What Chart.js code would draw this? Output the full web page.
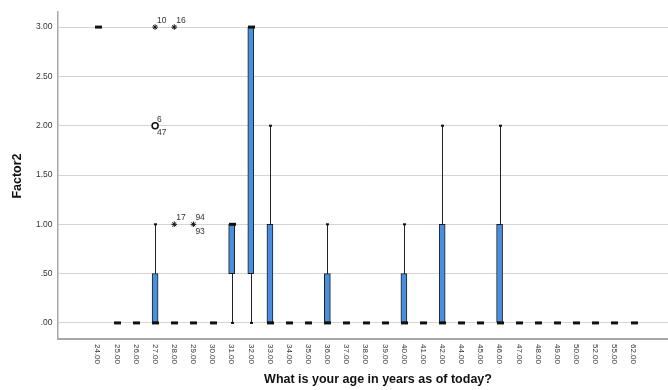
<!DOCTYPE html>
<html>
<head>
<meta charset="utf-8">
<script src="https://cdn.jsdelivr.net/npm/chart.js@4.4.1/dist/chart.umd.min.js"></script>
<style>
  html, body { margin: 0; padding: 0; background: #fff; }
  #wrap { width: 668px; height: 390px; position: relative; }
</style>
</head>
<body>
<div id="wrap"><canvas id="chart" width="668" height="390"></canvas></div>
<script>
// age groups on the x axis
const categories = ['24.00','25.00','26.00','27.00','28.00','29.00','30.00','31.00','32.00','33.00',
  '34.00','35.00','36.00','37.00','38.00','39.00','40.00','41.00','42.00','44.00','45.00','46.00',
  '47.00','48.00','49.00','50.00','52.00','55.00','62.00'];

// box plot summary per age (Factor2)
const whiskerLow  = [3,0,0,0,0,0,0,0,  0,  0,0,0,0,  0,0,0,0,  0,0,0,0,0,0,0,0,0,0,0,0];
const q1          = [3,0,0,0,0,0,0,0.5,0.5,0,0,0,0,  0,0,0,0,  0,0,0,0,0,0,0,0,0,0,0,0];
const median      = [3,0,0,0,0,0,0,1,  3,  0,0,0,0,  0,0,0,0,  0,0,0,0,0,0,0,0,0,0,0,0];
const q3          = [3,0,0,0.5,0,0,0,1,3,  1,0,0,0.5,0,0,0,0.5,0,1,0,0,1,0,0,0,0,0,0,0];
const whiskerHigh = [3,0,0,1,0,0,0,1,  3,  2,0,0,1,  0,0,0,1,  0,2,0,0,2,0,0,0,0,0,0,0];

// outliers: category index, value, marker, case ids
const outlierCat   = [3, 4, 3, 4, 5];
const outlierValue = [3, 3, 2, 1, 1];
const outlierShape = ['star','star','circle','star','star'];
const outlierIds   = [['10'], ['16'], ['6','47'], ['17'], ['94','93']];

const yTicks = [0, 0.5, 1, 1.5, 2, 2.5, 3];
const xTitle = 'What is your age in years as of today?';
const yTitle = 'Factor2';

const FONT = '"Liberation Sans", Arial, sans-serif';

const boxData = categories.map((c, i) => ({ x: i, y: q3[i] > q1[i] ? [q1[i], q3[i]] : null }));
const outlierData = outlierCat.map((c, i) => ({ x: c, y: outlierValue[i] }));

const boxPlotExtras = {
    id: 'boxPlotExtras',
    beforeDatasetsDraw(chart) {
        const { ctx, scales: { x, y } } = chart;
        ctx.save();
        ctx.strokeStyle = '#222';
        ctx.lineWidth = 1;
        categories.forEach((c, i) => {
            if (whiskerHigh[i] === whiskerLow[i]) return;
            const px = Math.round(x.getPixelForValue(i)) + 0.5;
            ctx.beginPath();
            ctx.moveTo(px, y.getPixelForValue(whiskerLow[i]));
            ctx.lineTo(px, y.getPixelForValue(whiskerHigh[i]));
            ctx.stroke();
            // tiny caps
            [whiskerLow[i], whiskerHigh[i]].forEach(v => {
                if (v === q1[i] || v === q3[i]) return;
                ctx.fillStyle = '#111';
                ctx.fillRect(px - 1.5, y.getPixelForValue(v) - 1, 3, 2);
            });
        });
        ctx.restore();
    },
    afterDatasetsDraw(chart) {
        const { ctx, scales: { x, y } } = chart;
        ctx.save();
        ctx.fillStyle = '#111';
        categories.forEach((c, i) => {
            const px = Math.round(x.getPixelForValue(i));
            const py = y.getPixelForValue(median[i]);
            ctx.fillRect(px - 3, py - 1.5, 7, 3);
        });
        // case labels next to outliers
        ctx.fillStyle = '#333';
        ctx.font = '8.5px ' + FONT;
        ctx.textAlign = 'left';
        outlierCat.forEach((c, i) => {
            const px = x.getPixelForValue(c);
            const py = y.getPixelForValue(outlierValue[i]);
            const ids = outlierIds[i];
            ctx.textBaseline = 'alphabetic';
            ctx.fillText(ids[0], px + 2, py - 4);
            if (ids[1]) {
                ctx.textBaseline = 'top';
                ctx.fillText(ids[1], px + 2, py + 3);
            }
        });
        ctx.restore();
    },
    afterDraw(chart) {
        const { ctx, scales: { x, y }, chartArea } = chart;
        ctx.save();
        // x tick labels rotated clockwise
        ctx.fillStyle = '#333';
        ctx.font = '8px ' + FONT;
        ctx.textAlign = 'left';
        ctx.textBaseline = 'middle';
        categories.forEach((c, i) => {
            ctx.save();
            ctx.translate(x.getPixelForValue(i), chartArea.bottom + 5);
            ctx.rotate(Math.PI / 2);
            ctx.fillText(c, 0, 0);
            ctx.restore();
        });
        // axis titles
        ctx.fillStyle = '#111';
        ctx.font = 'bold 12.5px ' + FONT;
        ctx.textAlign = 'center';
        ctx.textBaseline = 'middle';
        ctx.fillText(xTitle, 378, 380);
        ctx.save();
        ctx.translate(18, 176);
        ctx.rotate(-Math.PI / 2);
        ctx.fillText(yTitle, 0, 0);
        ctx.restore();
        ctx.restore();
    }
};

new Chart(document.getElementById('chart'), {
    type: 'bar',
    data: {
        datasets: [
            {
                label: 'box',
                data: boxData,
                backgroundColor: '#4a8fdf',
                borderColor: '#1e1e1e',
                borderWidth: 1,
                borderSkipped: false,
                barThickness: 6,
                grouped: false,
                order: 2
            },
            {
                type: 'line',
                label: 'outliers',
                data: outlierData,
                showLine: false,
                pointStyle: outlierShape,
                pointRadius: outlierShape.map(s => s === 'circle' ? 3 : 2.8),
                pointBorderColor: '#111',
                pointBackgroundColor: '#fff',
                pointBorderWidth: outlierShape.map(s => s === 'circle' ? 1.5 : 1),
                order: 1
            }
        ]
    },
    options: {
        responsive: false,
        animation: false,
        devicePixelRatio: 1,
        layout: { autoPadding: false, padding: { top: 12, right: 0, bottom: 0, left: 0 } },
        plugins: { legend: { display: false }, tooltip: { enabled: false } },
        scales: {
            x: {
                type: 'linear',
                offset: false,
                min: -2.1,
                max: 29.8,
                grid: { display: false },
                border: { display: true, color: '#a8a8a8', width: 2 },
                ticks: { display: false },
                afterFit: (s) => { s.height = 51; }
            },
            y: {
                min: -0.163,
                max: 3.153,
                afterBuildTicks: (s) => { s.ticks = yTicks.map(v => ({ value: v })); },
                grid: { color: '#d4d4d4', lineWidth: 1, drawTicks: false },
                border: { display: true, color: '#a8a8a8', width: 1.5 },
                ticks: {
                    padding: 5,
                    color: '#333',
                    font: { family: FONT, size: 8.5 },
                    callback: (v) => v.toFixed(2).replace(/^0/, '')
                },
                afterFit: (s) => { s.width = 57.5; }
            }
        }
    },
    plugins: [boxPlotExtras]
});
</script>
</body>
</html>
